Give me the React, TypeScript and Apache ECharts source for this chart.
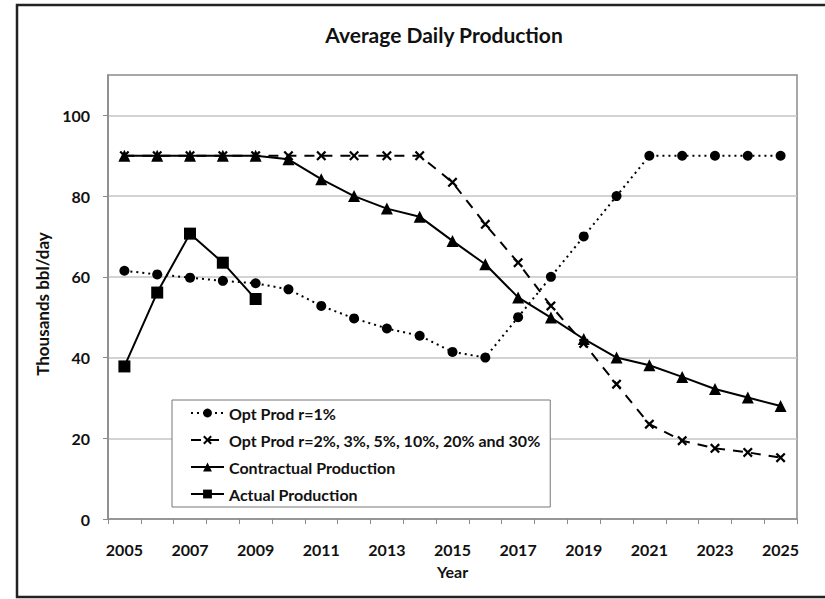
import React, { useEffect, useRef } from "react";
import * as echarts from "echarts";

const years = ["2005","2006","2007","2008","2009","2010","2011","2012","2013","2014","2015","2016","2017","2018","2019","2020","2021","2022","2023","2024","2025"];
const optProd1 = [61.5,60.6,59.8,59,58.4,56.9,52.8,49.7,47.2,45.4,41.4,40,50,60,70,80,90,90,90,90,90];
const optProd2 = [90,90,90,90,90,90,90,90,90,90,83.4,73,63.5,52.8,43.5,33.4,23.5,19.4,17.5,16.5,15.2];
const contractual = [90,90,90,90,90,89.1,84.2,80,76.9,74.9,68.9,63.1,54.9,49.9,44.6,40,38.1,35.2,32.2,30.1,28];
const actual = [37.8,56.1,70.7,63.5,54.5];
const yTicks = [0, 20, 40, 60, 80, 100];
const seriesNames = ["Opt Prod r=1%","Opt Prod r=2%, 3%, 5%, 10%, 20% and 30%","Contractual Production","Actual Production"];

const FONT = "Lato";
const X_SYMBOL = "path://M0,1.6L1.6,0L5,3.4L8.4,0L10,1.6L6.6,5L10,8.4L8.4,10L5,6.6L1.6,10L0,8.4L3.4,5Z";

export default function App() {
  const ref = useRef<HTMLDivElement>(null);
  useEffect(() => {
    if (!ref.current) return;
    const chart = echarts.init(ref.current, undefined, { renderer: "svg" });
    chart.setOption({
      animation: false,
      backgroundColor: "#fff",
      textStyle: { fontFamily: FONT },
      title: {
        text: "Average Daily Production",
        left: 439,
        textAlign: "center",
        top: 19,
        textStyle: { fontFamily: FONT, fontSize: 21, fontWeight: "bold", color: "#111" },
      },
      graphic: [
        {
          type: "rect",
          shape: { x: 17, y: 5, width: 830, height: 592 },
          style: { fill: "none", stroke: "#222", lineWidth: 2.5 },
          silent: true,
          z: 100,
        },
      ],
      grid: { left: 108, top: 75, right: 28, bottom: 80, show: true, borderColor: "#8a8a8a", borderWidth: 1.5, containLabel: false },
      legend: {
        orient: "vertical",
        left: 172,
        top: 400,
        data: seriesNames,
        itemWidth: 33,
        itemHeight: 11,
        itemGap: 11,
        padding: [5, 10, 5, 18],
        backgroundColor: "#fff",
        borderColor: "#777",
        borderWidth: 1,
        textStyle: { fontFamily: FONT, fontSize: 16, fontWeight: "bold", color: "#111" },
      },
      xAxis: {
        type: "category",
        data: years,
        boundaryGap: true,
        name: "Year",
        nameLocation: "middle",
        nameGap: 44,
        nameTextStyle: { fontFamily: FONT, fontSize: 16, fontWeight: "bold", color: "#111" },
        axisLine: { lineStyle: { color: "#8a8a8a", width: 1.5 } },
        axisTick: { show: true, length: 5, lineStyle: { color: "#8a8a8a" }, interval: 0 },
        axisLabel: { interval: 1, margin: 22, fontFamily: FONT, fontSize: 16, fontWeight: "bold", color: "#111" },
        splitLine: { show: false },
      },
      yAxis: {
        type: "value",
        min: 0,
        max: 110,
        interval: 20,
        name: "Thousands bbl/day",
        nameLocation: "middle",
        nameGap: 56,
        nameTextStyle: { fontFamily: FONT, fontSize: 17, fontWeight: "bold", color: "#111", padding: [0, 0, 0, -14] },
        axisLine: { show: true, lineStyle: { color: "#8a8a8a", width: 1.5 } },
        axisTick: { show: true, length: 5, lineStyle: { color: "#8a8a8a" }, customValues: yTicks },
        axisLabel: {
          margin: 18,
          fontFamily: FONT,
          fontSize: 16,
          fontWeight: "bold",
          color: "#111",
          customValues: yTicks,
        },
        splitLine: { lineStyle: { color: "#c4c4c4", width: 1.5 } },
      },
      series: [
        {
          name: seriesNames[0],
          type: "line",
          data: optProd1,
          symbol: "circle",
          symbolSize: 10,
          itemStyle: { color: "#000" },
          lineStyle: { color: "#000", width: 2, type: [2, 4] },
        },
        {
          name: seriesNames[1],
          type: "line",
          data: optProd2,
          symbol: X_SYMBOL,
          symbolSize: 10,
          itemStyle: { color: "#000" },
          lineStyle: { color: "#000", width: 2, type: [10, 8] },
        },
        {
          name: seriesNames[2],
          type: "line",
          data: contractual,
          symbol: "triangle",
          symbolSize: 12,
          itemStyle: { color: "#000" },
          lineStyle: { color: "#000", width: 2 },
        },
        {
          name: seriesNames[3],
          type: "line",
          data: actual,
          symbol: "rect",
          symbolSize: 12,
          itemStyle: { color: "#000" },
          lineStyle: { color: "#000", width: 2 },
        },
      ],
    });
    return () => chart.dispose();
  }, []);
  return <div ref={ref} style={{ position: "fixed", left: 0, top: 0, width: 825, height: 599 }} />;
}
